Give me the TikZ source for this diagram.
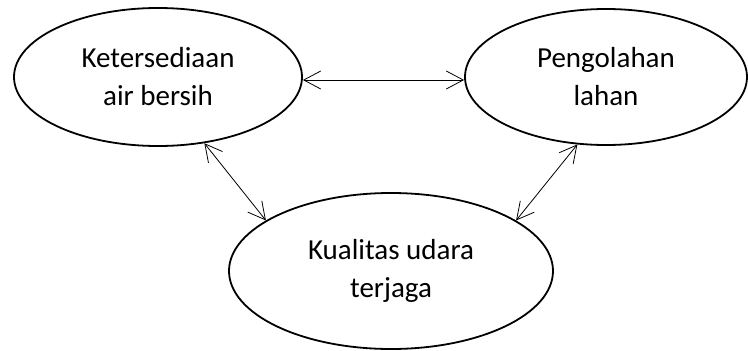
\documentclass[tikz,border=0pt]{standalone}
\usepackage{fontspec}
\setmainfont{Carlito}
\usetikzlibrary{shapes.geometric,arrows.meta}
\begin{document}
\begin{tikzpicture}[x=1pt,y=-1pt,
    faktor/.style={ellipse,draw,line width=1.8pt,inner sep=0pt,align=center,
      font=\fontsize{29}{38}\selectfont},
    hubung/.style={line width=0.8pt,
      {Straight Barb[length=17pt,width=18pt]}-{Straight Barb[length=17pt,width=18pt]}}]
    \useasboundingbox (0,0) rectangle (748,351);

    % Top row: two factors
    \node[faktor,minimum width=288pt,minimum height=138pt] (air) at (158,77) {Ketersediaan\\air bersih};
    \node[faktor,minimum width=282pt,minimum height=136pt] (lahan) at (606,77) {Pengolahan\\lahan};

    % Bottom: result
    \node[faktor,minimum width=324pt,minimum height=156pt] (udara) at (391,271) {Kualitas udara\\terjaga};

    % Two-way links
    \draw[hubung] ([yshift=-3pt]air.east) -- ([yshift=-3pt]lahan.west);
    \draw[hubung] (air.-55) -- (udara.158);
    \draw[hubung] (lahan.-113) -- (udara.22);
\end{tikzpicture}
\end{document}
